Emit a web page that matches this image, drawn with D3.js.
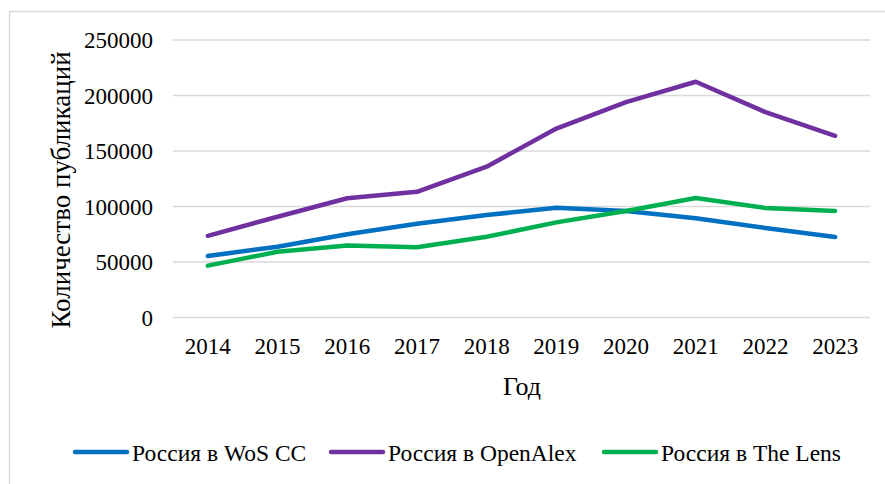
<!DOCTYPE html>
<html>
<head>
<meta charset="utf-8">
<script src="https://cdn.jsdelivr.net/npm/d3@7"></script>
<style>
  body { margin: 0; background: #fff; }
  svg text { font-family: "Times New Roman", "Liberation Serif", serif; fill: #000; }
</style>
</head>
<body>
<div id="chart"></div>
<script>
// Years on the x axis
const years = ["2014", "2015", "2016", "2017", "2018", "2019", "2020", "2021", "2022", "2023"];

// Publications per year
const wosValues = [55400, 63800, 75000, 84500, 92300, 98800, 96000, 89500, 80600, 72500];
const openAlexValues = [73600, 90800, 107400, 113200, 135900, 170200, 194000, 212400, 185000, 163700];
const lensValues = [46700, 59200, 64800, 63300, 72700, 85700, 96000, 107600, 98600, 96000];

const yTicks = [0, 50000, 100000, 150000, 200000, 250000];

const seriesNames = ["Россия в WoS CC", "Россия в OpenAlex", "Россия в The Lens"];
const seriesColors = ["#0070C0", "#7030A0", "#00B050"];

const series = [wosValues, openAlexValues, lensValues].map((values, i) => ({
    name: seriesNames[i],
    color: seriesColors[i],
    values: values
}));

const width = 885, height = 484;
const plot = { left: 173, right: 870, top: 40, bottom: 317.5 };

const svg = d3.select("#chart").append("svg")
    .attr("width", width)
    .attr("height", height);

// outer chart border
svg.append("rect")
    .attr("x", 9.5)
    .attr("y", 11.5)
    .attr("width", width + 20)
    .attr("height", height + 20)
    .style("fill", "none")
    .style("stroke", "#d9d9d9")
    .style("stroke-width", 1.5);

const x = d3.scaleBand().domain(years).range([plot.left, plot.right]);
const y = d3.scaleLinear().domain([0, 250000]).range([plot.bottom, plot.top]);

// Gridlines
svg.append("g")
    .selectAll("line")
    .data(yTicks)
    .enter().append("line")
    .attr("x1", plot.left)
    .attr("x2", plot.right)
    .attr("y1", d => y(d))
    .attr("y2", d => y(d))
    .style("stroke", "#d9d9d9")
    .style("stroke-width", 1.3);

// Y axis labels
const yAxis = d3.axisLeft(y).tickValues(yTicks).tickSize(0).tickPadding(20).tickFormat(d3.format("d"));
const yG = svg.append("g")
    .attr("transform", "translate(" + plot.left + ",0)")
    .call(yAxis);
yG.select(".domain").remove();
yG.selectAll("text")
    .style("font-size", "23px")
    .attr("dy", "0.34em");

// X axis labels
const xAxis = d3.axisBottom(x).tickSize(0).tickPadding(20);
const xG = svg.append("g")
    .attr("transform", "translate(0," + plot.bottom + ")")
    .call(xAxis);
xG.select(".domain").remove();
xG.selectAll("text")
    .style("font-size", "23px")
    .attr("dy", "0.71em");

// Axis titles
svg.append("text")
    .attr("transform", "translate(70,190) rotate(-90)")
    .attr("text-anchor", "middle")
    .style("font-size", "27px")
    .text("Количество публикаций");

svg.append("text")
    .attr("x", 522)
    .attr("y", 395)
    .attr("text-anchor", "middle")
    .style("font-size", "26px")
    .text("Год");

// Lines
const line = d3.line()
    .x((d, i) => x(years[i]) + x.bandwidth() / 2)
    .y(d => y(d));

series.forEach(s => {
    svg.append("path")
        .datum(s.values)
        .attr("d", line)
        .style("fill", "none")
        .style("stroke", s.color)
        .style("stroke-width", 4.5)
        .style("stroke-linecap", "round")
        .style("stroke-linejoin", "round");
});

// Legend
const legendX = [75, 331, 604];
const legend = svg.selectAll(".legend")
    .data(series)
    .enter().append("g")
    .attr("class", "legend")
    .attr("transform", (d, i) => "translate(" + legendX[i] + ",452)");

legend.append("line")
    .attr("x1", 0)
    .attr("x2", 52)
    .style("stroke", d => d.color)
    .style("stroke-width", 4.5)
    .style("stroke-linecap", "round");

legend.append("text")
    .attr("x", 57)
    .attr("y", 9)
    .style("font-size", "23.5px")
    .text(d => d.name);
</script>
</body>
</html>
